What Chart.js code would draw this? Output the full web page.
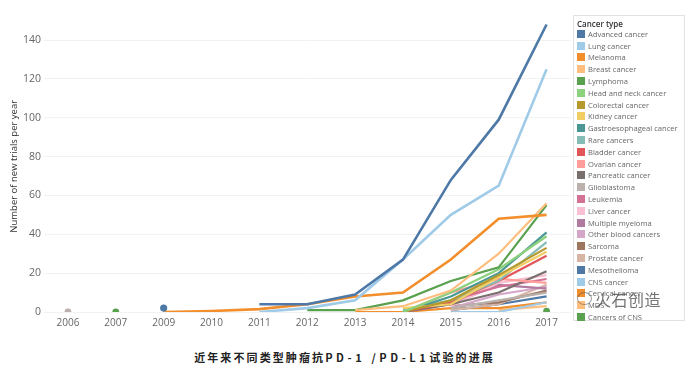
<!DOCTYPE html>
<html>
<head>
<meta charset="utf-8">
<script src="https://cdn.jsdelivr.net/npm/chart.js@4.4.1/dist/chart.umd.min.js"></script>
<style>
  html, body { margin: 0; padding: 0; background: #fff; }
  #wrap { position: relative; width: 689px; height: 374px; overflow: hidden; }
  #chart-box { position: absolute; left: 0; top: 0; width: 575px; height: 335px; }
  #legend {
    position: absolute; left: 573px; top: 15px; width: 112px; height: 306px;
    border: 1px solid #e2e2e2; box-sizing: border-box;
    font-family: "Open Sans", sans-serif; font-size: 7.6px; color: #666;
  }
  #legend .title { position: absolute; left: 3px; top: 2px; font-size: 8px; color: #333; font-weight: 600; }
  #legend .item { position: absolute; left: 3px; height: 10px; line-height: 10px; white-space: nowrap; }
  #legend .sw { display: inline-block; width: 8px; height: 8px; vertical-align: -1px; margin-right: 3px; }
  #caption {
    position: absolute; left: 0; width: 689px; top: 349px; text-align: center;
    font-family: "Noto Sans CJK SC", sans-serif; font-weight: bold; font-size: 11px;
    letter-spacing: 2.1px; color: #222;
  }
  #caption .lat { letter-spacing: 3.6px; }
  #mark {
    position: absolute; left: 595px; top: 287px; font-family: "Noto Sans CJK SC", sans-serif;
    font-size: 16px; color: rgba(70,70,70,0.75); letter-spacing: 0.5px;
  }
  #mark-icon {
    position: absolute; left: 577px; top: 292px; width: 13px; height: 11px;
    border: 1.5px solid rgba(90,90,90,0.6); border-radius: 50%;
  }
</style>
</head>
<body>
<div id="wrap">
  <div id="chart-box"><canvas id="chart" width="575" height="335"></canvas></div>
  <div id="legend"><div class="title">Cancer type</div></div>
  <div id="mark-icon"></div>
  <div id="mark">火石创造</div>
  <div id="caption">近年来不同类型肿瘤抗<span class="lat">PD-1 /PD-L1</span>试验的进展</div>
</div>
<script>
// --- Data ---
const years = ["2006", "2007", "2009", "2010", "2011", "2012", "2013", "2014", "2015", "2016", "2017"];
const yTicks = [0, 20, 40, 60, 80, 100, 120, 140];

const cancerTypes = [
  "Advanced cancer", "Lung cancer", "Melanoma", "Breast cancer", "Lymphoma",
  "Head and neck cancer", "Colorectal cancer", "Kidney cancer", "Gastroesophageal cancer", "Rare cancers",
  "Bladder cancer", "Ovarian cancer", "Pancreatic cancer", "Glioblastoma", "Leukemia",
  "Liver cancer", "Multiple myeloma", "Other blood cancers", "Sarcoma", "Prostate cancer",
  "Mesothelioma", "CNS cancer", "Cervical cancer", "MDS", "Cancers of CNS",
];

// tableau 20 palette
const typeColors = [
  "#4e79a7", "#a0cbe8", "#f28e2b", "#ffbe7d", "#59a14f",
  "#8cd17d", "#b6992d", "#f1ce63", "#499894", "#86bcb6",
  "#e15759", "#ff9d9a", "#79706e", "#bab0ac", "#d37295",
  "#fabfd2", "#b07aa1", "#d4a6c8", "#9d7660", "#d7b5a6",
  "#4e79a7", "#a0cbe8", "#f28e2b", "#ffbe7d", "#59a14f",
];

// new trials per year, one array per cancer type (null = no trials listed)
//                    2006  2007  2009  2010  2011  2012  2013  2014  2015  2016  2017
const advanced     = [null, null, 2,    null, 4,    4,    9,    27,   68,   99,   148];
const lung         = [null, null, null, null, 0,    2,    6,    27,   50,   65,   125];
const melanoma     = [null, null, 0,    0.5,  1.5,  4,    8,    10,   27,   48,   50];
const breast       = [null, null, null, null, null, null, 1,    3,    11,   30,   56];
const lymphoma     = [null, 0,    null, null, null, 1,    1,    6,    16,   23,   55];
const headNeck     = [null, null, null, null, null, null, null, 0,    10,   22,   39];
const colorectal   = [null, null, null, null, null, null, null, 0,    6,    19,   33];
const kidney       = [null, null, null, null, null, null, null, 2,    4,    18,   31];
const gastro       = [null, null, null, null, null, null, null, 0,    8,    20,   41];
const rare         = [null, null, null, null, null, null, null, 1,    6,    16,   36];
const bladder      = [null, null, null, null, null, null, null, 0,    5,    16,   29];
const ovarian      = [null, null, null, null, null, null, null, 0,    10,   17,   15];
const pancreatic   = [null, null, null, null, null, null, null, 0,    4,    10,   21];
const glioblastoma = [0,    null, null, null, null, null, null, null, 2,    6,    10];
const leukemia     = [null, null, null, null, null, null, null, null, 6,    13,   17];
const liver        = [null, null, null, null, null, null, null, null, 3,    15,   19];
const myeloma      = [null, null, null, null, null, null, null, 0,    4,    14,   12];
const otherBlood   = [null, null, null, null, null, null, null, null, 2,    9,    13];
const sarcoma      = [null, null, null, null, null, null, null, null, 3,    5,    11];
const prostate     = [null, null, null, null, null, null, null, null, 1,    4,    14];
const mesothelioma = [null, null, null, null, null, null, null, null, 1,    4,    8];
const cns          = [null, null, null, null, null, null, null, null, 0,    0,    5];
const cervical     = [null, null, null, null, null, null, 0,    0,    2,    2,    5];
const mds          = [null, null, null, null, null, null, null, null, null, 1,    3];
const cnsCancers   = [null, null, null, null, null, null, null, null, null, null, 0.5];

const seriesValues = [
  advanced, lung, melanoma, breast, lymphoma, headNeck, colorectal, kidney, gastro, rare,
  bladder, ovarian, pancreatic, glioblastoma, leukemia, liver, myeloma, otherBlood, sarcoma, prostate,
  mesothelioma, cns, cervical, mds, cnsCancers,
];

// --- Legend (html, built from the arrays) ---
const legendEl = document.getElementById("legend");
cancerTypes.forEach((name, i) => {
  const item = document.createElement("div");
  item.className = "item";
  item.style.top = (12.8 + i * 11.8) + "px";
  const sw = document.createElement("span");
  sw.className = "sw";
  sw.style.background = typeColors[i];
  item.appendChild(sw);
  item.appendChild(document.createTextNode(name));
  legendEl.appendChild(item);
});

// show a dot only where a value stands alone
function isolatedRadius(ctx) {
  const d = ctx.dataset.data;
  const i = ctx.dataIndex;
  if (d[i] == null) return 0;
  return d[i - 1] == null && d[i + 1] == null ? 2.3 : 0;
}

const datasets = seriesValues.map((vals, i) => ({
  label: cancerTypes[i],
  data: vals,
  borderColor: typeColors[i],
  backgroundColor: typeColors[i],
  borderWidth: i < 3 ? 2.6 : 2.2,
  tension: 0,
  pointRadius: isolatedRadius,
  pointHoverRadius: 0,
  spanGaps: false,
}));

new Chart(document.getElementById("chart"), {
  type: "line",
  data: { labels: years, datasets },
  options: {
    responsive: false,
    animation: false,
    layout: { padding: { top: 20.6, right: 3, left: 0, bottom: 0 } },
    plugins: { legend: { display: false }, tooltip: { enabled: false } },
    scales: {
      x: {
        offset: true,
        grid: { display: false, drawTicks: false },
        border: { display: false },
        ticks: { color: "#666", font: { family: "Open Sans", size: 10 }, padding: 5, maxRotation: 0 },
        afterFit: (s) => { s.height = 23; },
      },
      y: {
        min: 0,
        max: 150,
        afterBuildTicks: (s) => { s.ticks = yTicks.map((v) => ({ value: v })); },
        grid: { color: "#f2f2f2", drawTicks: false },
        border: { display: false },
        ticks: { color: "#666", font: { family: "Open Sans", size: 10.5 }, padding: 3 },
        title: {
          display: true,
          text: "Number of new trials per year",
          color: "#333",
          font: { family: "Open Sans", size: 9.5 },
          padding: { top: 9, bottom: 0 },
        },
        afterFit: (s) => { s.width = 44; },
      },
    },
  },
});
</script>
</body>
</html>
